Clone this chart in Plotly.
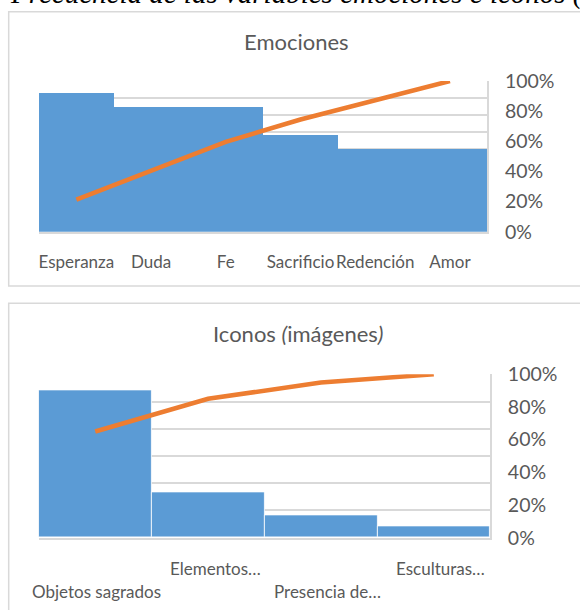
import plotly.graph_objects as go
import numpy as np

# ---------------- data ----------------
emo_cats = ["Esperanza", "Duda", "Fe", "Sacrificio", "Redención", "Amor"]
emo_vals = [10, 9, 9, 7, 6, 6]

ico_cats = ["Objetos sagrados", "Elementos…", "Presencia de…", "Esculturas…"]
ico_vals = [13, 4, 2, 1]

caption = "Frecuencia de las variables emociones e iconos (imágenes)"
title_emo = "Emociones"
title_ico = "Iconos <i>(</i>imágenes<i>)</i>"

# ---------------- style ----------------
W, H = 580, 610
BLUE = "#5b9bd5"
ORANGE = "#ed7d31"
GREY_TXT = "#595959"
GRID = "#d9d9d9"
FONT = "Lato"


def px_x(p):
    return p / W


def px_y(p):
    return 1 - p / H


def cum_pct(v):
    v = np.array(v, dtype=float)
    return np.cumsum(v) / v.sum()


fig = go.Figure()

# top chart
fig.add_trace(go.Bar(x=emo_cats, y=emo_vals, marker=dict(color=BLUE, line=dict(width=0)),
                     xaxis="x", yaxis="y", width=1.0, showlegend=False))
fig.add_trace(go.Scatter(x=emo_cats, y=cum_pct(emo_vals), mode="lines",
                         line=dict(color=ORANGE, width=4.5),
                         xaxis="x", yaxis="y2", showlegend=False))
# bottom chart
fig.add_trace(go.Bar(x=ico_cats, y=ico_vals, marker=dict(color=BLUE, line=dict(color="white", width=0.8)),
                     xaxis="x2", yaxis="y3", width=1.0, showlegend=False))
fig.add_trace(go.Scatter(x=ico_cats, y=cum_pct(ico_vals), mode="lines",
                         line=dict(color=ORANGE, width=4.5),
                         xaxis="x2", yaxis="y4", showlegend=False))

top_dom_y = [px_y(231.7), px_y(81)]
bot_dom_y = [px_y(537.7), px_y(374.3)]

emo_range = 10.87
ico_range = 14.38

fig.update_layout(
    width=W, height=H,
    margin=dict(l=0, r=0, t=0, b=0, autoexpand=False),
    paper_bgcolor="white", plot_bgcolor="rgba(0,0,0,0)",
    bargap=0,
    font=dict(family=FONT, color=GREY_TXT),
    xaxis=dict(domain=[px_x(39), px_x(487.3)], anchor="y", type="category",
               range=[-0.5, len(emo_cats) - 0.5],
               showline=True, linecolor=GRID, linewidth=1.5,
               ticks="outside", ticklen=0, ticklabelstandoff=14, tickangle=0,
               tickfont=dict(size=17, color=GREY_TXT, family=FONT), showgrid=False),
    yaxis=dict(domain=top_dom_y, anchor="x", range=[0, emo_range],
               tick0=1.126, dtick=1.218, showticklabels=False,
               showgrid=True, gridcolor=GRID, gridwidth=1.5, zeroline=False),
    yaxis2=dict(overlaying="y", anchor="x", side="right", range=[0, 1],
                dtick=0.2, tickformat=".0%", showgrid=False, zeroline=False,
                showline=True, linecolor=GRID, linewidth=1.5,
                ticks="outside", ticklen=0, ticklabelstandoff=12,
                tickfont=dict(size=19.5, color=GREY_TXT, family=FONT)),
    xaxis2=dict(domain=[px_x(38.8), px_x(490.2)], anchor="y3", type="category",
                range=[-0.5, len(ico_cats) - 0.5],
                showline=True, linecolor=GRID, linewidth=1.5,
                showticklabels=False, showgrid=False),
    yaxis3=dict(domain=bot_dom_y, anchor="x2", range=[0, ico_range],
                tick0=0, dtick=ico_range / 6, showticklabels=False,
                showgrid=True, gridcolor=GRID, gridwidth=1.5, zeroline=False),
    yaxis4=dict(overlaying="y3", anchor="x2", side="right", range=[0, 1],
                dtick=0.2, tickformat=".0%", showgrid=False, zeroline=False,
                showline=True, linecolor=GRID, linewidth=1.5,
                ticks="outside", ticklen=0, ticklabelstandoff=12,
                tickfont=dict(size=19.5, color=GREY_TXT, family=FONT)),
)

annotations = [
    dict(text=caption, xref="paper", yref="paper", x=px_x(8), y=px_y(12.5),
         xanchor="left", yanchor="bottom", showarrow=False,
         font=dict(family="Liberation Serif", size=29, color="black", style="italic")),
    dict(text=title_emo, xref="paper", yref="paper", x=px_x(296.5), y=px_y(41),
         xanchor="center", yanchor="middle", showarrow=False,
         font=dict(family=FONT, size=22, color=GREY_TXT)),
    dict(text=title_ico, xref="paper", yref="paper", x=px_x(298), y=px_y(333),
         xanchor="center", yanchor="middle", showarrow=False,
         font=dict(family=FONT, size=22, color=GREY_TXT)),
]
# staggered category labels of the bottom chart
for i, c in enumerate(ico_cats):
    row_px = 591.7 if i % 2 == 0 else 568.3
    annotations.append(dict(text=c, xref="x2", yref="paper", x=c, y=px_y(row_px),
                            xanchor="center", yanchor="middle", showarrow=False,
                            xshift=1 if i == 0 else 7,
                            font=dict(family=FONT, size=17, color=GREY_TXT)))
fig.update_layout(annotations=annotations)

fig.update_layout(shapes=[
    dict(type="rect", xref="paper", yref="paper", x0=px_x(8.7), x1=1.02,
         y0=px_y(286), y1=px_y(11.7), line=dict(color=GRID, width=1.5), layer="below"),
    dict(type="rect", xref="paper", yref="paper", x0=px_x(8.7), x1=1.02,
         y0=-0.02, y1=px_y(303.3), line=dict(color=GRID, width=1.5), layer="below"),
])

fig.write_html("out.html", config={"displayModeBar": False},
               post_script="document.body.style.margin='0';")
